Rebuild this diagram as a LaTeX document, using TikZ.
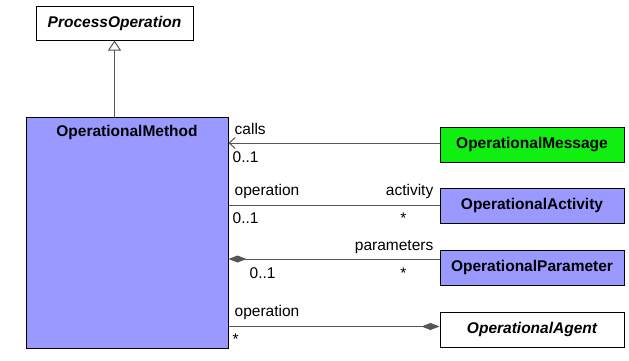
\documentclass[tikz,border=0pt]{standalone}
\usepackage{fontspec}
\setmainfont{Liberation Sans}
\usetikzlibrary{arrows.meta,positioning}

\definecolor{umlblue}{HTML}{9999FF}
\definecolor{umlgreen}{HTML}{11EE11}
\definecolor{linegray}{HTML}{555555}

\begin{document}
\begin{tikzpicture}[
  x=1pt, y=1pt,
  font=\fontsize{15.5}{18}\selectfont,
  >=Latex,
  cls/.style={draw=black, line width=1pt, minimum width=184pt, minimum height=35pt, inner sep=0pt, font=\fontsize{15.5}{18}\selectfont\bfseries},
  abstr/.style={cls, fill=white, font=\fontsize{15.5}{18}\selectfont\bfseries\itshape},
  method/.style={cls, fill=umlblue, minimum width=202pt, minimum height=231pt},
  assoc/.style={draw=linegray, line width=1pt},
  role/.style={inner sep=0pt}
]
\useasboundingbox (0,0) rectangle (629,-360);

\node[abstr, minimum width=157pt, minimum height=34pt] (po) at (114.5,-23) {ProcessOperation};
\node[method, below=76pt of po.south, xshift=12.5pt,
  label={[anchor=base, yshift=-20pt, font=\fontsize{15.5}{18}\selectfont\bfseries]north:OperationalMethod}] (om) {};

\node[cls, fill=umlgreen, below right=10pt and 211pt of om.north east] (msg) {OperationalMessage};
\node[cls, fill=umlblue, below=25pt of msg] (act) {OperationalActivity};
\node[cls, fill=umlblue, below=26pt of act] (par) {OperationalParameter};
\node[abstr, below=26pt of par] (agt) {OperationalAgent};

% generalization
\draw[assoc, -{Triangle[open, length=10pt, width=13pt]}] (po.south |- om.north) -- (po.south);

% calls
\coordinate (a1) at ([yshift=1.5pt]msg.west);
\draw[assoc, -{Straight Barb[length=6pt, width=11pt, line width=1pt]}] (a1) -- (a1 -| om.east) coordinate (c1);
\node[role, anchor=base west] at ([shift={(6,9)}]c1) {calls};
\node[role, anchor=base west] at ([shift={(4,-19)}]c1) {0..1};

% activity
\draw[assoc] (act.west) coordinate (a2) -- (act.west -| om.east) coordinate (c2);
\node[role, anchor=base west] at ([shift={(6,10)}]c2) {operation};
\node[role, anchor=base west] at ([shift={(4,-18)}]c2) {0..1};
\node[role, anchor=base east] at ([shift={(-6,10)}]a2) {activity};
\node[role, anchor=base] at ([shift={(-36,-18)}]a2) {*};

% parameters
\coordinate (a3) at ([yshift=8.5pt]par.west);
\draw[assoc, {Diamond[length=18pt, width=7pt]}-] (a3 -| om.east) coordinate (c3) -- (a3);
\node[role, anchor=base east] at ([shift={(-6,9)}]a3) {parameters};
\node[role, anchor=base west] at ([shift={(21,-19)}]c3) {0..1};
\node[role, anchor=base] at ([shift={(-36,-19)}]a3) {*};

% agent
\coordinate (a4) at ([yshift=3pt]agt.west);
\draw[assoc, -{Diamond[length=18pt, width=7pt]}] (a4 -| om.east) coordinate (c4) -- (a4);
\node[role, anchor=base west] at ([shift={(6,10)}]c4) {operation};
\node[role, anchor=base west] at ([shift={(4,-18)}]c4) {*};

\end{tikzpicture}
\end{document}
